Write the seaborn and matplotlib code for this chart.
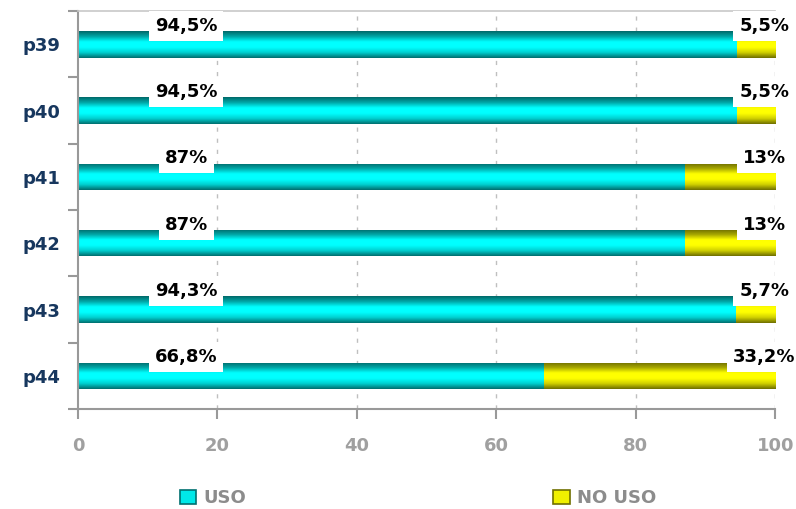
import numpy as np
import pandas as pd
import matplotlib
matplotlib.use("Agg")
import matplotlib.pyplot as plt
from matplotlib.colors import LinearSegmentedColormap
from matplotlib.patches import Patch
import seaborn as sns

categories = ['p39', 'p40', 'p41', 'p42', 'p43', 'p44']
uso = [94.5, 94.5, 87, 87, 94.3, 66.8]
no_uso = [5.5, 5.5, 13, 13, 5.7, 33.2]
uso_labels = ['94,5%', '94,5%', '87%', '87%', '94,3%', '66,8%']
no_uso_labels = ['5,5%', '5,5%', '13%', '13%', '5,7%', '33,2%']
xticks = [0, 20, 40, 60, 80, 100]
series_names = ['USO', 'NO USO']

sns.set_theme(style="white")
plt.rcParams['font.family'] = ['DejaVu Sans']
plt.rcParams['font.weight'] = 'bold'

df = pd.DataFrame({'cat': categories, 'uso': uso,
                   'total': [a + b for a, b in zip(uso, no_uso)]})

fig = plt.figure(figsize=(7.96, 5.09), dpi=100)
ax = fig.add_axes([0.098, 0.1965, 0.876, 0.7815])

sns.barplot(data=df, y='cat', x='total', orient='h', color='#ffff00',
            width=0.4, ax=ax, linewidth=0, saturation=1)
sns.barplot(data=df, y='cat', x='uso', orient='h', color='#00ffff',
            width=0.4, ax=ax, linewidth=0, saturation=1)

cmap_c = LinearSegmentedColormap.from_list('c', ['#006a6a', '#00a8a8', '#00ffff', '#00ffff', '#00d0d0', '#007070'])
cmap_y = LinearSegmentedColormap.from_list('y', ['#6e6e00', '#a8a800', '#ffff00', '#ffff00', '#d0d000', '#707000'])
grad = np.linspace(0, 1, 64).reshape(-1, 1)
n = len(categories)
patches = list(ax.patches)
for i, p in enumerate(patches):
    cmap = cmap_y if i < n else cmap_c
    x0, y0 = p.get_x(), p.get_y()
    w, h = p.get_width(), p.get_height()
    im = ax.imshow(grad, cmap=cmap, aspect='auto',
                   extent=(x0, x0 + w, y0 + h, y0), zorder=p.get_zorder() + 0.1 * (i >= n),
                   interpolation='bilinear')
    im.set_clip_path(p)
    p.set_alpha(0)

ax.set_xlim(0, 100)
ax.set_ylim(n - 0.5, -0.5)
ax.set_xticks(xticks)
ax.set_xticklabels([str(t) for t in xticks])
ax.set_yticks(range(n))
ax.set_yticklabels(categories)
ax.set_yticks(np.arange(-0.5, n, 1), minor=True)
ax.set_xlabel('')
ax.set_ylabel('')

for x in xticks[1:]:
    ax.axvline(x, color='#bfbfbf', lw=1, ls=(0, (3, 5)), zorder=0.5)

for s in ['left', 'bottom']:
    ax.spines[s].set_color('#999999')
    ax.spines[s].set_linewidth(1.5)
ax.spines['top'].set_color('#c8c8c8')
ax.spines['top'].set_linewidth(1.2)
ax.spines['right'].set_visible(False)

ax.tick_params(axis='y', which='major', length=0, pad=13, labelsize=13, labelcolor='#17375e')
ax.tick_params(axis='y', which='minor', length=7, width=1.5, color='#999999', left=True)
ax.tick_params(axis='x', which='major', length=7, width=1.5, color='#999999', bottom=True,
               labelsize=13, labelcolor='#a0a0a0', pad=13)
for t in ax.get_yticklabels() + ax.get_xticklabels():
    t.set_fontweight('bold')

for i in range(n):
    ax.text(15.5, i - 0.28, uso_labels[i], ha='center', va='center', fontsize=13,
            fontweight='bold', color='black', zorder=10,
            bbox=dict(boxstyle='square,pad=0.33', fc='white', ec='none'))
    ax.text(98.4, i - 0.28, no_uso_labels[i], ha='center', va='center', fontsize=13,
            fontweight='bold', color='black', zorder=10, clip_on=False,
            bbox=dict(boxstyle='square,pad=0.33', fc='white', ec='none'))

handles = [Patch(facecolor='#00e8e8', edgecolor='#007070', lw=1.2),
           Patch(facecolor='#f0f000', edgecolor='#707000', lw=1.2)]
leg = fig.legend(handles, series_names, loc='center left', bbox_to_anchor=(0.206, 0.021),
                 ncol=2, frameon=False, columnspacing=17.0, handlelength=0.9, handleheight=0.8,
                 handletextpad=0.4, prop={'weight': 'bold', 'size': 13})
for t in leg.get_texts():
    t.set_color('#8c8c8c')

fig.savefig('out.png', dpi=100)
